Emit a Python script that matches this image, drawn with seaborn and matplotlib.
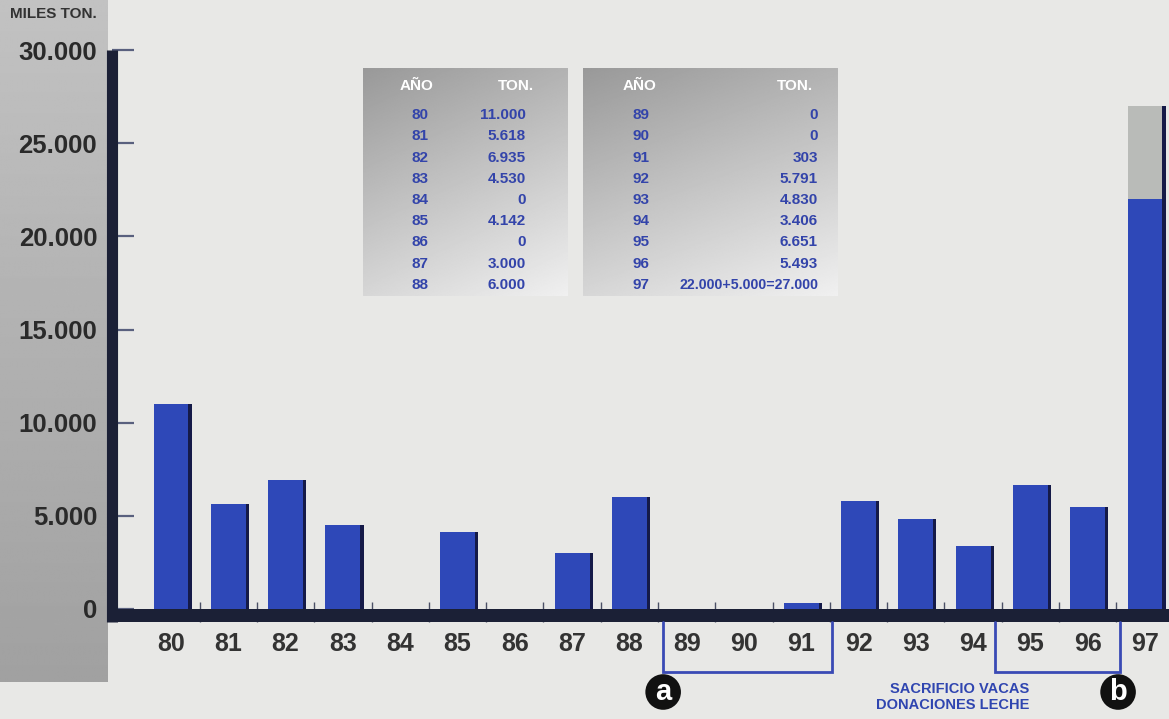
import numpy as np
import pandas as pd
import matplotlib
matplotlib.use("Agg")
import matplotlib.pyplot as plt
import matplotlib.patheffects as pe
import seaborn as sns

# ---------------- data ----------------
years = ["80", "81", "82", "83", "84", "85", "86", "87", "88",
         "89", "90", "91", "92", "93", "94", "95", "96", "97"]
base_tons = [11000, 5618, 6935, 4530, 0, 4142, 0, 3000, 6000,
             0, 0, 303, 5791, 4830, 3406, 6651, 5493, 22000]
extra_tons = [0, 0, 0, 0, 0, 0, 0, 0, 0,
              0, 0, 0, 0, 0, 0, 0, 0, 5000]
y_ticks = [0, 5000, 10000, 15000, 20000, 25000, 30000]
y_label = "MILES TON."
note_a_years = ["89", "90", "91"]
note_b_years = ["95", "96"]
note_b_text = "SACRIFICIO VACAS\nDONACIONES LECHE"

# ---------------- style ----------------
sns.set_style("white")
plt.rcParams['font.family'] = ['Liberation Sans', 'DejaVu Sans']

BLUE = "#2e48b8"
GREY = "#b9bbb8"
NAVY = "#1b2036"
SHADOW = "#151a48"
TXT = "#2a2a2a"
TBLUE = "#3344aa"

def fmt(v):
    return f"{v:,}".replace(",", ".")

df = pd.DataFrame({"year": years, "base": base_tons,
                   "total": [b + e for b, e in zip(base_tons, extra_tons)]})

W, H = 1169, 719
fig = plt.figure(figsize=(W / 100, H / 100), dpi=100)
fig.patch.set_facecolor("#e8e8e6")

# background layer in pixel coordinates (panels / tables)
bg = fig.add_axes([0, 0, 1, 1], zorder=-10)
bg.set_xlim(0, W)
bg.set_ylim(H, 0)
bg.axis("off")

# left grey gradient strip
grad = np.linspace(0.76, 0.63, 256).reshape(-1, 1)
bg.imshow(grad, extent=(0, 108, 682, 0), cmap="gray", vmin=0, vmax=1,
          aspect="auto", interpolation="bilinear")

# table panels
def panel(x0, x1, y0, y1):
    v = np.linspace(0, 1, 200).reshape(-1, 1)
    h = np.linspace(0, 1, 200).reshape(1, -1)
    g = 0.60 + 0.24 * v + 0.10 * h
    bg.imshow(g, extent=(x0, x1, y1, y0), cmap="gray", vmin=0, vmax=1,
              aspect="auto", interpolation="bilinear")

panel(363, 568, 68, 296)
panel(583, 838, 68, 296)

tab_kw = dict(fontweight="bold", color=TBLUE, va="center")
hdr_kw = dict(fontsize=11, fontweight="bold", color="white", va="center", ha="center")
row0, drow = 115, 21.25
half = 9
# table 1
bg.text(417, 86, "AÑO", **hdr_kw)
bg.text(516, 86, "TON.", **hdr_kw)
for i in range(half):
    y = row0 + i * drow
    bg.text(420, y, years[i], ha="center", fontsize=11, **tab_kw)
    bg.text(526, y, fmt(base_tons[i] + extra_tons[i]), ha="right", fontsize=11, **tab_kw)
# table 2
bg.text(640, 86, "AÑO", **hdr_kw)
bg.text(795, 86, "TON.", **hdr_kw)
for j, i in enumerate(range(half, len(years))):
    y = row0 + j * drow
    bg.text(641, y, years[i], ha="center", fontsize=11, **tab_kw)
    if extra_tons[i]:
        s = f"{fmt(base_tons[i])}+{fmt(extra_tons[i])}={fmt(base_tons[i] + extra_tons[i])}"
        fs = 10.2
    else:
        s = fmt(base_tons[i])
        fs = 11
    bg.text(818, y, s, ha="right", fontsize=fs, **tab_kw)

# ---------------- main axes ----------------
ax_left = 112.5 / W
ax_bottom = (H - 622) / H
ax_top = (H - 50) / H
ax = fig.add_axes([ax_left, ax_bottom, 1 - ax_left, ax_top - ax_bottom])
ax.set_facecolor("none")

shadow = [pe.SimplePatchShadow(offset=(2.3, 0), shadow_rgbFace=SHADOW, alpha=1.0),
          pe.Normal()]

sns.barplot(data=df, x="year", y="total", order=years, color=GREY,
            saturation=1, width=0.61, ax=ax, zorder=2)
sns.barplot(data=df, x="year", y="base", order=years, color=BLUE,
            saturation=1, width=0.61, ax=ax, zorder=2)
for p in ax.patches:
    p.set_edgecolor("none")
    if p.get_height() > 0:
        p.set_path_effects(shadow)

px = 57.3
ax.set_xlim(-(171 - 112.5) / px, len(years) - 1 + (W - 1145) / px)
unit = 30000 / (609 - 50.0)  # data units per pixel
ymin = -(622 - 609) * unit
ax.set_ylim(ymin, 30000)
ax.axhspan(ymin, 0, color=NAVY, zorder=3, lw=0)

ax.set_yticks(y_ticks)
ax.set_yticklabels([fmt(v) for v in y_ticks], fontsize=18.5,
                   fontweight="bold", color=TXT)
ax.tick_params(axis="y", which="major", left=True, direction="in", length=16,
               width=1.6, color="#59607e", pad=11)
ax.set_xticks(range(len(years)))
ax.set_xticklabels(years, fontsize=18, fontweight="bold", color="#333333")
ax.tick_params(axis="x", which="major", bottom=True, length=0, pad=7)
ax.set_xticks([i + 0.5 for i in range(len(years) - 1)], minor=True)
ax.tick_params(axis="x", which="minor", bottom=True, direction="in", length=14.5,
               width=1.0, color="#4a4f66")
ax.set_xlabel("")
ax.set_ylabel("")
for s in ["top", "right", "bottom"]:
    ax.spines[s].set_visible(False)
ax.spines["left"].set_color(NAVY)
ax.spines["left"].set_linewidth(8)
ax.spines["left"].set_capstyle("butt")
ax.spines["left"].set_zorder(4)

fig.text(10 / W, 1 - 14 / H, y_label, fontsize=11, fontweight="bold",
         color="#333333", va="center", ha="left")

# ---------------- bracket annotations ----------------
yb_top = ymin
yb_bot = -(672 - 609) * unit

def bracket(x0, x1):
    ax.plot([x0, x0, x1, x1], [yb_top, yb_bot, yb_bot, yb_top], color="#3a4ab5",
            lw=2, clip_on=False, zorder=5, solid_joinstyle="miter")

ia0, ia1 = years.index(note_a_years[0]), years.index(note_a_years[-1])
ib0, ib1 = years.index(note_b_years[0]), years.index(note_b_years[-1])
bracket(ia0 - 0.41, ia1 + 0.54)
bracket(ib0 - 0.62, ib1 + 0.56)

circ_y = -(692 - 609) * unit
circ_kw = dict(ha="center", va="center", fontsize=21, fontweight="bold",
               color="white", clip_on=False, zorder=6,
               bbox=dict(boxstyle="circle,pad=0.13", fc="#111111", ec="none"))
ax.text(ia0 - 0.41, circ_y, "a", **circ_kw)
ax.text(ib1 + 0.53, circ_y, "b", **circ_kw)
ax.text(ib0 - 0.02, -(697 - 609) * unit, note_b_text, ha="right", va="center",
        fontsize=10.5, fontweight="bold", color="#2f45b0", linespacing=1.1,
        clip_on=False, zorder=6)

fig.savefig("out.png", dpi=100, facecolor=fig.get_facecolor())
